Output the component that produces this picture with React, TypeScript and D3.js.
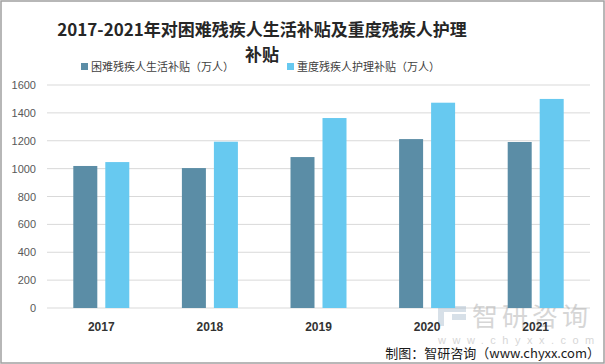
import React from "react";
import * as d3 from "d3";

const years = ["2017", "2018", "2019", "2020", "2021"];
const seriesNames = ["困难残疾人生活补贴（万人）", "重度残疾人护理补贴（万人）"];
const livingSubsidy = [1019, 1004, 1083, 1212, 1191];
const careSubsidy = [1047, 1193, 1363, 1473, 1500];
const yTicks = [0, 200, 400, 600, 800, 1000, 1200, 1400, 1600];
const colors = ["#5b8da6", "#67c9f0"];

const W = 605, H = 364;
const margin = { top: 85, right: 15, bottom: 56, left: 47 };

const App = () => {
  const x = d3.scaleBand().domain(years).range([margin.left, W - margin.right]).paddingInner(0).paddingOuter(0);
  const y = d3.scaleLinear().domain([0, 1600]).range([H - margin.bottom, margin.top]);
  const inner = d3.scaleBand().domain(["0", "1"]).range([x.bandwidth() / 2 - 28, x.bandwidth() / 2 + 28]).paddingInner(0.25);
  const series = [livingSubsidy, careSubsidy];
  const cjk = "'Noto Sans CJK SC', 'Noto Sans', sans-serif";

  return (
    <svg width={W} height={H} style={{ position: "absolute", left: 0, top: 0, background: "#fff" }}>
      <rect x={1} y={1} width={W - 2} height={H - 2} fill="#fff" stroke="#a0a0a0" strokeWidth={1.5} />
      <text x={262} y={36} textAnchor="middle" fontFamily={cjk} fontWeight="bold" fontSize={17} fill="#262626">
        2017-2021年对困难残疾人生活补贴及重度残疾人护理
      </text>
      <text x={262} y={61} textAnchor="middle" fontFamily={cjk} fontWeight="bold" fontSize={17} fill="#262626">补贴</text>

      {seriesNames.map((s, i) => {
        const lx = i === 0 ? 81 : 287;
        return (
          <g key={s}>
            <rect x={lx} y={63} width={7} height={7} fill={colors[i]} />
            <text x={lx + 10} y={71} fontFamily={cjk} fontSize={11} fill="#404040">{s}</text>
          </g>
        );
      })}

      {yTicks.map((t) => (
        <g key={t}>
          <line x1={margin.left} x2={W - margin.right} y1={y(t)} y2={y(t)} stroke="#d9d9d9" strokeWidth={1} />
          <text x={36} y={y(t) + 4} textAnchor="end" fontFamily="'Liberation Sans', sans-serif" fontSize={11} fill="#595959">{t}</text>
        </g>
      ))}

      {/* watermark */}
      <g opacity={0.35}>
        <rect x={438} y={306} width={6} height={20} fill="#8fa8c0" />
        <rect x={444} y={306} width={22} height={6} fill="#8fa8c0" />
        <rect x={452} y={314} width={14} height={6} fill="#8fa8c0" />
        <text x={472} y={326} fontFamily={cjk} fontSize={26} fill="#8c8c8c" letterSpacing={4}>智研咨询</text>
        <text x={438} y={344} fontFamily="'Liberation Sans', sans-serif" fontSize={11} fill="#8c8c8c" letterSpacing={6.5}>www.chyxx.com</text>
      </g>

      {years.map((yr, gi) => (
        <g key={yr} transform={`translate(${x(yr)},0)`}>
          {series.map((vals, si) => (
            <rect key={si} x={inner(String(si))} width={inner.bandwidth()} y={y(vals[gi])} height={y(0) - y(vals[gi])} fill={colors[si]} />
          ))}
          <text x={x.bandwidth() / 2} y={331} textAnchor="middle" fontFamily="'Liberation Sans', sans-serif" fontWeight="bold" fontSize={12} fill="#333">{yr}</text>
        </g>
      ))}

      <text x={600} y={358} textAnchor="end" fontFamily={cjk} fontSize={13} fill="#1a1a1a">制图：智研咨询（www.chyxx.com）</text>
    </svg>
  );
};

export default App;
